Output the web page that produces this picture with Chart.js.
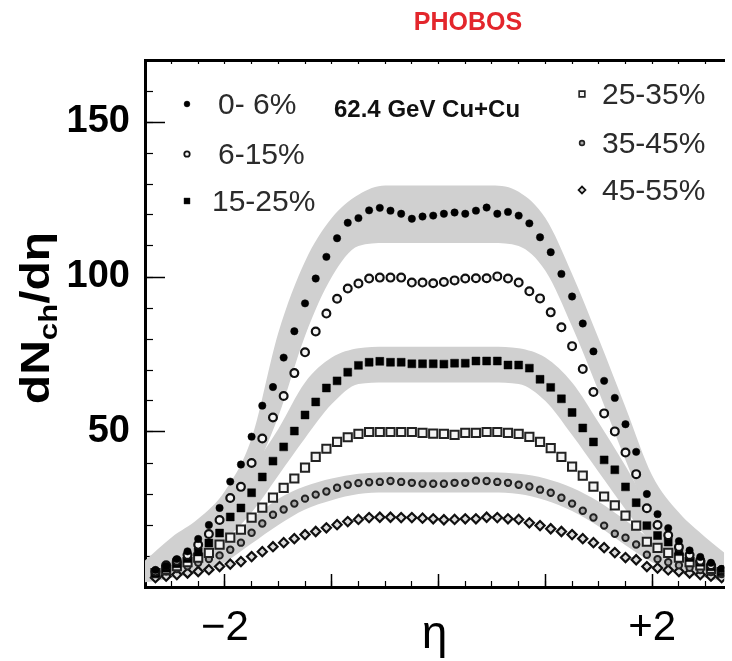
<!DOCTYPE html>
<html>
<head>
<meta charset="utf-8">
<script src="https://cdn.jsdelivr.net/npm/chart.js@4.4.1/dist/chart.umd.min.js"></script>
<style>
  html, body { margin: 0; padding: 0; background: #fff; }
</style>
</head>
<body>
<canvas id="chart" width="732" height="661"></canvas>
<script>
// pseudorapidity bin centres
const eta = [-2.65,-2.55,-2.45,-2.35,-2.25,-2.15,-2.05,-1.95,-1.85,-1.75,-1.65,-1.55,-1.45,-1.35,-1.25,-1.15,-1.05,-0.95,-0.85,-0.75,-0.65,-0.55,-0.45,-0.35,-0.25,-0.15,-0.05,
             0.05,0.15,0.25,0.35,0.45,0.55,0.65,0.75,0.85,0.95,1.05,1.15,1.25,1.35,1.45,1.55,1.65,1.75,1.85,1.95,2.05,2.15,2.25,2.35,2.45,2.55,2.65];

// dNch/deta per centrality class
const cent0to6 = [5.5,6.8,9,11.5,15.5,20,25.5,34,39.5,48.5,58.5,64.5,74,82.5,91.5,99.5,106.5,112.5,117.5,119,121.5,122.3,121.4,120.4,118.8,119.5,119.8,
                  120.4,120.8,120.4,121.4,122.4,120.4,121,119.8,117.3,112.8,108,101,93.7,85,76,66.5,61,52.5,43.6,30,23.5,19,14.8,11.8,9.7,7.8,5.8];
const cent6to15 = [5,7,8.5,10.3,13.6,17.1,21.6,28.7,32.3,40,47.9,54.7,61.6,69,75.7,82.4,88.2,93,96.3,97.9,99.5,99.8,99.8,99.8,98.2,98.2,98,
                   98.4,98.9,99.5,99.6,99.6,100.2,99.5,98.2,95.4,93.1,88.6,83.8,77.7,70.3,62.9,56,50.2,43.4,36.4,25.4,20,16.7,12.9,10.3,8.5,7,5.5];
const cent15to25 = [4.5,6,7.5,9.2,11.3,14.2,17.4,22.6,25.5,30.4,35.5,40.6,45.2,50.3,55.5,59.7,64.2,66.5,69.3,71.5,72.5,72.8,72.5,72.5,72,72,72,
                    71.9,72.2,72.2,72.9,72.9,72.9,71.6,71.6,70.6,67,64.4,60.7,56.3,51.3,46.8,41,37.8,32.3,27.2,19.8,16.6,14.5,11.4,9.5,8,6.5,5];
const cent25to35 = [4.5,5.5,6.7,8,9.5,11,13.7,15.9,18.5,22.4,25.6,28.8,32,35,38.5,42,44.6,46.8,48.3,49.4,50,50,50,50,50,49.7,49.5,
                    49.4,49.1,49.7,49.7,50,50,49.7,49.4,48.4,46.8,44.8,42,38.8,35.9,32.4,29.2,26.3,23,19.8,14.6,12.6,11,9.5,8,7,5.8,4.8];
const cent35to45 = [4.3,5,5.8,6.7,7.8,9,10.2,12,14.3,17.5,20.5,23.3,25,26.9,28.5,29.8,30.8,32,33,33.5,33.8,33.9,34.2,33.9,33.6,33.3,33.3,
                    33.3,33.6,33.6,34.3,34.2,33.9,33.6,33,32.4,31.4,30.4,28.8,26.9,24.6,22.4,19.8,17.2,15.9,13.7,10.4,9,8,7,6.2,5.5,4.8,4.2];
const cent45to55 = [3,3.5,4,4.5,5,5.6,6.6,7.4,8.2,9.8,11.4,13,14.3,15.6,16.9,17.9,19.1,20.1,21.1,21.8,22.4,22.5,22.5,22.4,22.4,22.2,22,
                    21.7,21.8,22,22,22.5,22.4,22,21.8,20.7,19.8,18.8,17.9,16.9,15.6,14.3,12.7,11.1,9.5,8.8,6.6,6.1,5.5,5,4.5,4,3.5,3];

// systematic error bands (upper / lower edges)
const bandEta = [-2.75,-2.5,-2.25,-2,-1.75,-1.5,-1.25,-1,-0.75,-0.5,-0.25,0,0.25,0.5,0.75,1,1.25,1.5,1.75,2,2.25,2.5,2.75];
const band0to6Hi = [8.5,16,22,31,48,82,105,119,126.5,129.5,129.5,129.5,129.5,129.5,127.5,119,101,80,58,36,24,16,9];
const band0to6Lo = [2,3.5,8,19,35,55,81,100,110,111,111,111,111,111,110,102,84,63,41,21,9,4,2];
const band15to25Hi = [5,8,13,25,38,51,66,74,77,77.5,77.5,77.5,77.5,77.5,77,74,66,53,39,24,13,8,5];
const band15to25Lo = [1.5,3,7,15,24,36,48,59,65.5,66,66,66,66,66,65.5,60,49,37,25,14,7,3,1.5];
const band35to45Hi = [5,7,10,15,22,28.5,32.5,35,36.5,37,37,37,37,37,36.5,35,32,27.5,21.5,15,10,7,5];
const band35to45Lo = [2,3,4.5,8,14,20,25,28,30,30.5,30.5,30.5,30.5,30.5,30,28,24.5,19.5,13.5,8,4.5,3,2];

const seriesLabels = ['0- 6%', '6-15%', '15-25%', '25-35%', '35-45%', '45-55%'];
const xTickLabels = { '-2': '\u22122', '2': '+2' };
const yTickLabels = [50, 100, 150];
const chartTitle = 'PHOBOS';
const systemLabel = '62.4 GeV Cu+Cu';

const xy = (xs, ys) => xs.map((x, i) => ({ x: x, y: ys[i] }));

function hasFont(name) {
  const c = document.createElement('canvas').getContext('2d');
  c.font = 'bold 40px monospace';
  const w0 = c.measureText('150dNch').width;
  c.font = 'bold 40px "' + name + '", monospace';
  return c.measureText('150dNch').width !== w0;
}
const narrow = hasFont('Liberation Sans Narrow');
const yTickFont = narrow
  ? { family: '"Liberation Sans Narrow"', size: 42, weight: 'bold' }
  : { family: '"Liberation Sans", Arial, sans-serif', size: 38, weight: 'bold' };

const bandColor = 'rgb(208,208,208)';
function band(hi, lo) {
  const common = { type: 'line', showLine: true, pointRadius: 0, borderWidth: 0,
                   borderColor: bandColor, backgroundColor: bandColor,
                   cubicInterpolationMode: 'monotone', order: 10 };
  return [
    Object.assign({ data: xy(bandEta, hi), fill: false }, common),
    Object.assign({ data: xy(bandEta, lo), fill: '-1' }, common)
  ];
}

const markers = [
  { pointStyle: 'circle', pointRadius: 3.7, pointBackgroundColor: '#000', pointBorderColor: '#000', pointBorderWidth: 0.5 },
  { pointStyle: 'circle', pointRadius: 3.9, pointBackgroundColor: '#f4f4f4', pointBorderColor: '#111', pointBorderWidth: 2.2 },
  { pointStyle: 'rect', pointRadius: 5.6, pointBackgroundColor: '#000', pointBorderColor: '#000', pointBorderWidth: 0.5 },
  { pointStyle: 'rect', pointRadius: 5.8, pointBackgroundColor: '#f4f4f4', pointBorderColor: '#222', pointBorderWidth: 2 },
  { pointStyle: 'circle', pointRadius: 3.2, pointBackgroundColor: '#aaa', pointBorderColor: '#222', pointBorderWidth: 2 },
  { pointStyle: 'rectRot', pointRadius: 4.6, pointBackgroundColor: '#ddd', pointBorderColor: '#111', pointBorderWidth: 2.2 }
];
const seriesData = [cent0to6, cent6to15, cent15to25, cent25to35, cent35to45, cent45to55];

const pointSets = seriesData.map((ys, i) => Object.assign({
  label: seriesLabels[i], data: xy(eta, ys), showLine: false, order: 1
}, markers[i]));

// legend, title and y-axis label
const annotate = {
  id: 'annotate',
  afterDraw(chart) {
    const ctx = chart.ctx;
    ctx.save();
    ctx.textBaseline = 'middle';

    ctx.fillStyle = '#e3262c';
    ctx.font = 'bold 25px "Liberation Sans", Arial, sans-serif';
    ctx.textAlign = 'center';
    ctx.fillText(chartTitle, 468, 23);

    ctx.fillStyle = '#111';
    ctx.textAlign = 'left';
    ctx.font = 'bold 24px "Liberation Sans", Arial, sans-serif';
    ctx.fillText(systemLabel, 334, 110);

    const slots = [
      { mx: 187, tx: 218, y: 104 }, { mx: 187, tx: 218, y: 154 }, { mx: 187, tx: 212, y: 201 },
      { mx: 582, tx: 602, y: 94 },  { mx: 582, tx: 602, y: 143 }, { mx: 582, tx: 602, y: 190 }
    ];
    const legendScale = [0.8, 0.7, 0.75, 0.7, 0.75, 0.75];
    ctx.font = '30px "Liberation Sans", Arial, sans-serif';
    slots.forEach((s, i) => {
      const m = markers[i];
      ctx.fillStyle = m.pointBackgroundColor;
      ctx.strokeStyle = m.pointBorderColor;
      ctx.lineWidth = m.pointBorderWidth * 0.8;
      Chart.helpers.drawPoint(ctx, { pointStyle: m.pointStyle, radius: m.pointRadius * legendScale[i],
                                     borderWidth: m.pointBorderWidth * 0.8, rotation: 0 }, s.mx, s.y);
      ctx.fillStyle = '#2b2b2b';
      ctx.fillText(seriesLabels[i], s.tx, s.y + 2);
    });

    // rotated y title with subscript
    ctx.translate(36, 318);
    ctx.rotate(-Math.PI / 2);
    ctx.scale(1.2, 1);
    ctx.fillStyle = '#000';
    const big = 'bold 40px "Liberation Sans", Arial, sans-serif';
    const small = 'bold 26px "Liberation Sans", Arial, sans-serif';
    const parts = [['dN', big, 0], ['ch', small, 8], ['/d\u03b7', big, 0]];
    let total = 0;
    parts.forEach(p => { ctx.font = p[1]; total += ctx.measureText(p[0]).width; });
    let x = -total / 2;
    ctx.textAlign = 'left';
    ctx.textBaseline = 'alphabetic';
    parts.forEach(p => { ctx.font = p[1]; ctx.fillText(p[0], x, 13 + p[2]); x += ctx.measureText(p[0]).width; });
    ctx.restore();
  }
};

const xMin = -2.748, xMax = 2.674;
const yMin = 0, yMax = 170;

new Chart(document.getElementById('chart'), {
  type: 'scatter',
  data: {
    datasets: [].concat(band(band0to6Hi, band0to6Lo), band(band15to25Hi, band15to25Lo),
                        band(band35to45Hi, band35to45Lo), pointSets)
  },
  options: {
    responsive: false,
    devicePixelRatio: 1,
    animation: false,
    layout: { padding: { top: 60, left: 0, right: 0, bottom: 0 } },
    plugins: { legend: { display: false }, tooltip: { enabled: false } },
    scales: {
      x: {
        type: 'linear', position: 'bottom', min: xMin, max: xMax, weight: 0,
        ticks: { stepSize: 1, includeBounds: false, autoSkip: false, maxRotation: 0, padding: 29,
                 color: '#000', font: { family: '"Liberation Sans", Arial, sans-serif', size: 42 },
                 callback: v => xTickLabels[String(v)] || '' },
        grid: { drawOnChartArea: false, drawTicks: true, tickLength: -13, tickWidth: 1.5, tickColor: '#000' },
        border: { color: '#000', width: 3 },
        title: { display: true, text: '\u03b7', color: '#000', padding: { top: 0, bottom: -2 },
                 font: { family: '"Liberation Sans", Arial, sans-serif', size: 46 } },
        afterFit: s => { s.height = 74; }
      },
      xMinor: {
        type: 'linear', position: 'bottom', min: xMin, max: xMax, weight: -1,
        ticks: { stepSize: 0.25, includeBounds: false, display: false },
        grid: { drawOnChartArea: false, drawTicks: true, tickLength: -6, tickWidth: 1.2, tickColor: '#000' },
        border: { display: false },
        afterFit: s => { s.height = 0; }
      },
      xTop: {
        type: 'linear', position: 'top', min: xMin, max: xMax,
        ticks: { stepSize: 0.25, includeBounds: false, display: false },
        grid: { drawOnChartArea: false, drawTicks: true, tickLength: -4, tickWidth: 1.2, tickColor: '#000' },
        border: { color: '#000', width: 3 },
        afterFit: s => { s.height = 0; }
      },
      y: {
        type: 'linear', position: 'left', min: yMin, max: yMax, weight: 0,
        ticks: { stepSize: 50, includeBounds: false, padding: 35, color: '#000', font: yTickFont,
                 callback: v => (yTickLabels.indexOf(v) >= 0 ? String(v) : '') },
        grid: { drawOnChartArea: false, drawTicks: true, tickLength: -20, tickWidth: 1.5, tickColor: '#000' },
        border: { color: '#000', width: 3 },
        afterFit: s => { s.width = 145; }
      },
      yMinor: {
        type: 'linear', position: 'left', min: yMin, max: yMax, weight: -1,
        ticks: { stepSize: 10, includeBounds: false, display: false },
        grid: { drawOnChartArea: false, drawTicks: true, tickLength: -8, tickWidth: 1.2, tickColor: '#000' },
        border: { display: false },
        afterFit: s => { s.width = 0; }
      }
    }
  },
  plugins: [annotate]
});
</script>
</body>
</html>
